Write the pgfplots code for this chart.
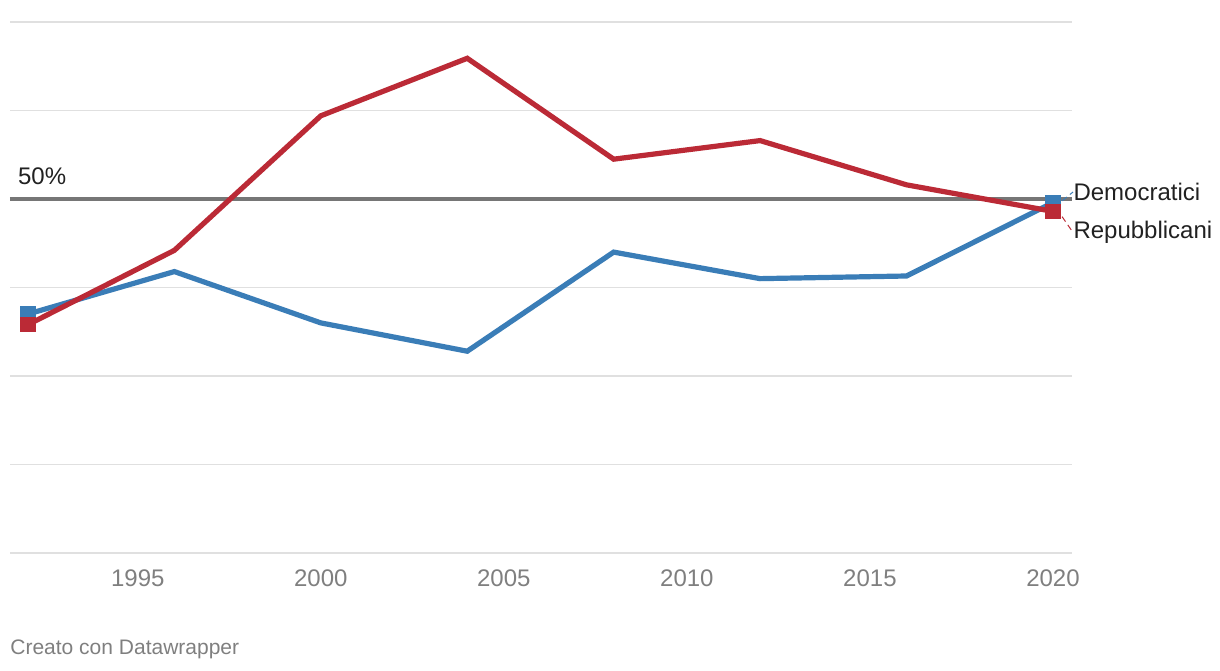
\documentclass[border=0pt]{standalone}
\usepackage{fontspec}
\setmainfont{Liberation Sans}
\usepackage{pgfplots}
\pgfplotsset{compat=1.18}
\definecolor{demblue}{HTML}{3A7DB7}
\definecolor{repred}{HTML}{BB2A36}
\definecolor{gridc}{HTML}{E0E0E0}
\definecolor{tickc}{HTML}{7F7F7F}
\definecolor{refc}{HTML}{767676}
\begin{document}
\begin{tikzpicture}[x=1pt,y=1pt]
\path[use as bounding box] (0,0) rectangle (610,335);
\begin{axis}[
  at={(5pt,58.5pt)}, anchor=south west,
  scale only axis, width=531pt, height=265.5pt,
  xmin=1991.51, xmax=2020.52, ymin=30, ymax=60,
  axis line style={draw=none},
  xtick={1995,2000,2005,2010,2015,2020},
  xticklabels={1995,2000,2005,2010,2015,2020},
  xticklabel style={font=\fontsize{12}{14}\selectfont, text=tickc, yshift=-5pt},
  ytick={30,35,40,45,55,60},
  yticklabels={},
  major tick length=0pt,
  ymajorgrids, grid style={gridc, line width=0.6pt},
  clip=false,
]
\addplot[refc, line width=1.5pt, forget plot] coordinates {(1991.51,50) (2020.52,50)};
\addplot[demblue, line width=2.6pt, mark=square*, mark size=2.6pt, mark indices={1,8}, mark options={solid}] coordinates {
 (1992,43.5) (1996,45.9) (2000,43.0) (2004,41.4) (2008,47.0) (2012,45.5) (2016,45.65) (2020,49.8)};
\addplot[repred, line width=2.6pt, mark=square*, mark size=2.6pt, mark indices={1,8}, mark options={solid}] coordinates {
 (1992,42.9) (1996,47.1) (2000,54.7) (2004,57.95) (2008,52.25) (2012,53.3) (2016,50.8) (2020,49.3)};
\draw[demblue, densely dashed, line width=0.5pt] (axis cs:2020.25,49.9) -- (axis cs:2020.55,50.4);
\draw[repred, densely dashed, line width=0.5pt] (axis cs:2020.25,49.0) -- (axis cs:2020.55,48.1);
\node[anchor=west, inner sep=0pt, font=\fontsize{12}{14}\selectfont, text=black!87] at (axis cs:2020.55,50.4) {Democratici};
\node[anchor=west, inner sep=0pt, font=\fontsize{12}{14}\selectfont, text=black!87] at (axis cs:2020.55,48.1) {Repubblicani};
\node[anchor=south west, inner sep=0pt, font=\fontsize{12}{14}\selectfont, text=black!87] at (axis cs:1991.72,50.8) {50\%};
\end{axis}
\node[anchor=west, inner sep=0pt, font=\fontsize{10.5}{12}\selectfont, text=tickc] at (5,10.5) {Creato con Datawrapper};
\end{tikzpicture}
\end{document}
